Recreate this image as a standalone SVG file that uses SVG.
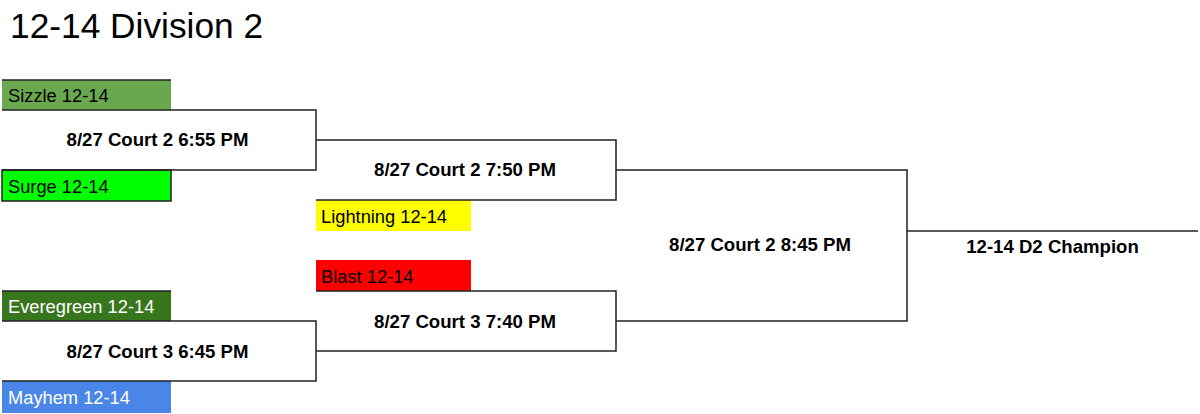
<svg xmlns="http://www.w3.org/2000/svg" width="1200" height="414" viewBox="0 0 1200 414">
<style>
.bg{fill:#ffffff}
.ln{fill:none;stroke:#222;stroke-width:1.5}
.team{font-family:"Liberation Sans",Arial,sans-serif;font-size:18.3px;fill:#000}
.wt{fill:#fff}
.match{font-family:"Liberation Sans",Arial,sans-serif;font-size:18.6px;font-weight:bold;fill:#000;text-anchor:middle}
.title{font-family:"Liberation Sans",Arial,sans-serif;font-size:35.3px;fill:#000}
</style>
<rect class="bg" x="0" y="0" width="1200" height="414"/>
<text class="title" x="10" y="38">12-14 Division 2</text>

<g id="connectors">
  <path class="ln" d="M907,231 H1198"/>
</g>

<g id="team-sizzle">
  <rect x="2" y="80" width="169" height="30" fill="#6aa84f"/>
  <path class="ln" d="M2,80 H171"/>
  <text class="team" x="8" y="102">Sizzle 12-14</text>
</g>
<g id="team-surge">
  <rect x="2" y="170" width="169" height="31" fill="#00ff00" stroke="#222" stroke-width="1.5"/>
  <text class="team" x="8" y="193">Surge 12-14</text>
</g>
<g id="team-lightning">
  <rect x="316" y="200" width="155" height="31" fill="#ffff00"/>
  <text class="team" x="321" y="223">Lightning 12-14</text>
</g>
<g id="team-blast">
  <rect x="316" y="260" width="155" height="31" fill="#ff0000"/>
  <text class="team" x="321" y="283">Blast 12-14</text>
</g>
<g id="team-everegreen">
  <rect x="2" y="291" width="169" height="30" fill="#38761d"/>
  <path class="ln" d="M2,291 H171"/>
  <text class="team wt" x="8" y="313">Everegreen 12-14</text>
</g>
<g id="team-mayhem">
  <rect x="2" y="381" width="169" height="32" fill="#4a86e8"/>
  <text class="team wt" x="8" y="404">Mayhem 12-14</text>
</g>

<g id="match-655">
  <path class="ln" d="M2,110 H316 V170 H2"/>
  <text class="match" x="157.5" y="146">8/27 Court 2 6:55 PM</text>
</g>
<g id="match-750">
  <path class="ln" d="M316,140 H616 V200 H316"/>
  <text class="match" x="465" y="176">8/27 Court 2 7:50 PM</text>
</g>
<g id="match-740">
  <path class="ln" d="M316,291 H616 V351 H316"/>
  <text class="match" x="465" y="328">8/27 Court 3 7:40 PM</text>
</g>
<g id="match-645">
  <path class="ln" d="M2,321 H316 V381 H2"/>
  <text class="match" x="157.5" y="358">8/27 Court 3 6:45 PM</text>
</g>
<g id="match-845">
  <path class="ln" d="M616,170 H907 V321 H616"/>
  <text class="match" x="760" y="251">8/27 Court 2 8:45 PM</text>
</g>
<g id="champion">
  <text class="match" x="1052.5" y="253">12-14 D2 Champion</text>
</g>
</svg>
